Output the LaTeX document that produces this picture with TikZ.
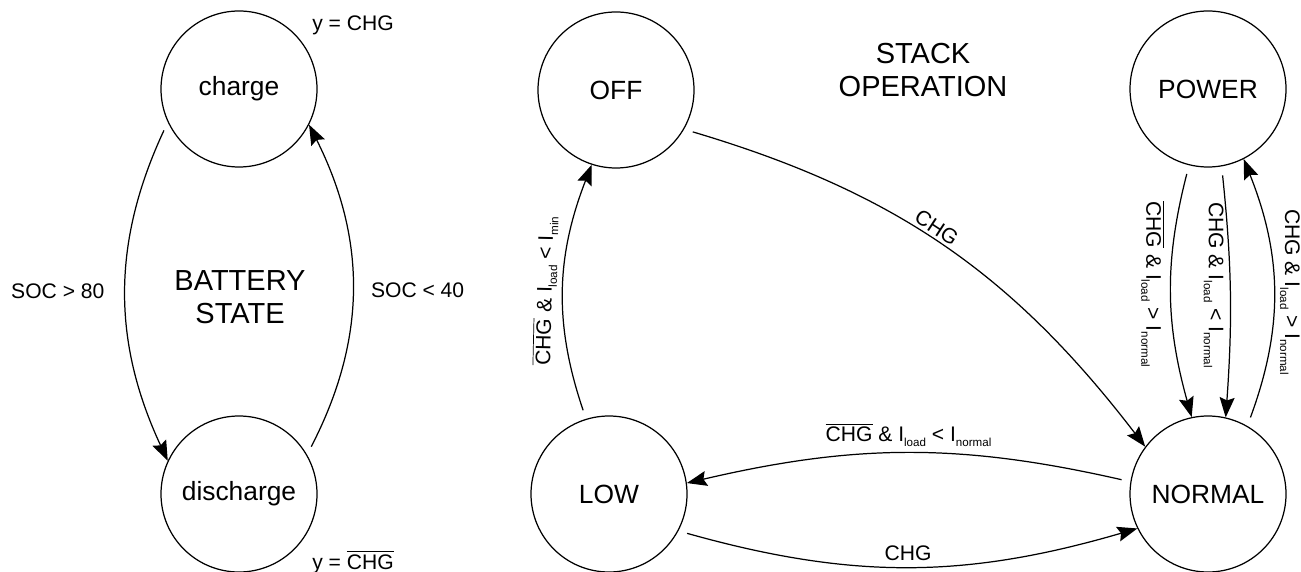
\documentclass[tikz,border=0pt]{standalone}
\usepackage{fontspec}
\setmainfont{Liberation Sans}
\usetikzlibrary{arrows.meta,positioning}
\newcommand{\ixsub}[1]{\raisebox{-0.45ex}{\scalebox{0.55}{#1}}}
\newcommand{\nchg}{$\overline{\mbox{CHG}}$}
\tikzset{%
	state/.style = {draw, circle, minimum size=3.12cm, inner sep=0pt, line width=0.7pt, font=\fontsize{15}{18}\selectfont},
	title/.style = {align=center, font=\fontsize{16.5}{19}\selectfont},
	lbl/.style   = {font=\fontsize{12}{14}\selectfont},
	trans/.style = {line width=0.7pt, -{Stealth[length=0.4cm, width=0.3cm, inset=0.06cm]}, shorten <=0.18cm},
}

\begin{document}
\begin{tikzpicture}
	\useasboundingbox (0,0) rectangle (26.02,-11.44);
	% battery state
	\node [state] (charge) at (4.78,-1.78) {charge};
	\node [state] (discharge) [below of=charge, node distance=8.1cm] {discharge};
	\node [title] (battery) at (4.8,-5.94) {BATTERY\\STATE};
	\node [lbl, anchor=base] (ychg) at (7.06,-0.62) {y = CHG};
	\node [lbl, anchor=base] (ynchg) at (7.06,-11.38) {y = \nchg};
	
	\draw [trans] (charge.205) to[bend right=25] node[lbl, left=0.3cm] {SOC > 80} (discharge.155);
	\draw [trans] (discharge.30) to[bend right=27] node[lbl, right=0.25cm] {SOC < 40} (charge.333);
	
	% stack operation
	\node [state] (off) at (12.32,-1.8) {OFF};
	\node [state] (low) at (12.18,-9.88) {LOW};
	\node [state] (power) at (24.16,-1.78) {POWER};
	\node [state] (normal) [below of=power, node distance=8.1cm] {NORMAL};
	\node [title] (stack) at (18.46,-1.40) {STACK\\OPERATION};
	
	\draw [trans] (off.330) to[bend left=18] node[lbl, sloped, above, pos=0.47, inner sep=2pt] {CHG} (normal.143);
	\draw [trans] (low.107) to[bend left=20] node[lbl, sloped, above] {\nchg{} \& I\ixsub{load} < I\ixsub{min}} (off.252);
	\draw [trans] (power.256) to[bend right=15] node[lbl, rotate=-90, anchor=north, pos=0.47] {\nchg{} \& I\ixsub{load} > I\ixsub{normal}} (normal.102);
	\draw [trans] (power.280) to[bend left=5] node[lbl, rotate=-90, anchor=north, pos=0.47] {CHG \& I\ixsub{load} < I\ixsub{normal}} (normal.77);
	\draw [trans] (normal.60) to[bend right=21] node[lbl, rotate=-90, anchor=south] {CHG \& I\ixsub{load} > I\ixsub{normal}} (power.297);
	\draw [trans] (normal.171) to[bend right=13] node[lbl, above] {\nchg{} \& I\ixsub{load} < I\ixsub{normal}} (low.8);
	\draw [trans] (low.332) to[bend right=16] node[lbl, above] {CHG} (normal.206);
\end{tikzpicture}
\end{document}
